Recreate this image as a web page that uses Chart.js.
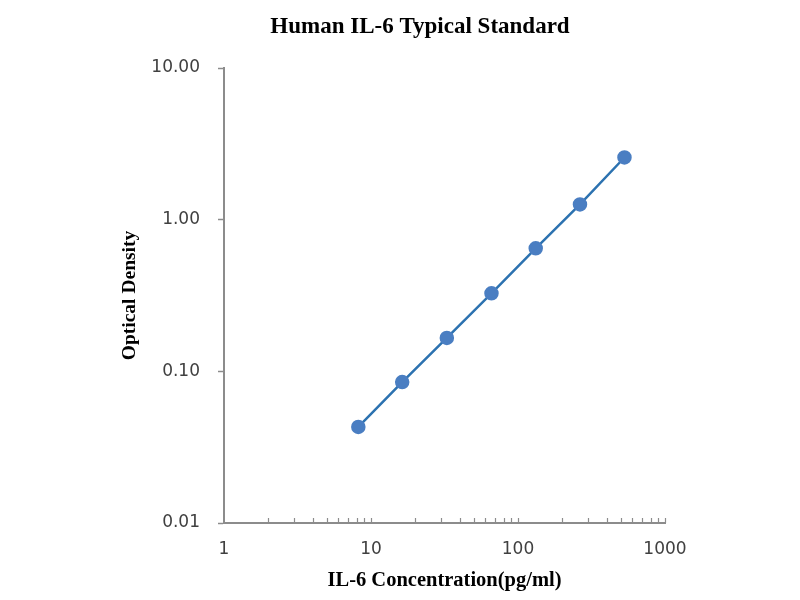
<!DOCTYPE html>
<html>
<head>
<meta charset="utf-8">
<script src="https://cdn.jsdelivr.net/npm/chart.js@4.4.1/dist/chart.umd.min.js"></script>
<style>
  html, body { margin: 0; padding: 0; background: #ffffff; }
  #wrap { width: 800px; height: 600px; position: relative; }
</style>
</head>
<body>
<div id="wrap"><canvas id="c" width="800" height="600"></canvas></div>
<script>
// Data
const concentration = [8.2, 16.3, 32.8, 66, 132, 264, 530];   // pg/ml
const opticalDensity = [0.043, 0.085, 0.166, 0.327, 0.647, 1.26, 2.57];
const xMajorTicks = [1, 10, 100, 1000];
const xTickLabels = ['1', '10', '100', '1000'];
const yMajorTicks = [0.01, 0.1, 1, 10];
const yTickLabels = ['0.01', '0.10', '1.00', '10.00'];
const chartTitle = 'Human IL-6 Typical Standard';
const xTitle = 'IL-6 Concentration(pg/ml)';
const yTitle = 'Optical Density';

const points = concentration.map((x, i) => ({ x: x, y: opticalDensity[i] }));

// inward minor ticks on the x axis, placed through the library's scale
const minorTicks = {
  id: 'minorTicks',
  afterDatasetsDraw(chart) {
    const xs = chart.scales.x;
    const ctx = chart.ctx;
    const yb = chart.chartArea.bottom;
    ctx.save();
    ctx.strokeStyle = '#8c8c8c';
    ctx.lineWidth = 1.2;
    for (let d = 1; d < 1000; d *= 10) {
      for (let m = 2; m <= 10; m++) {
        const px = Math.round(xs.getPixelForValue(d * m)) + 0.5;
        ctx.beginPath();
        ctx.moveTo(px, yb);
        ctx.lineTo(px, yb - 5);
        ctx.stroke();
      }
    }
    ctx.restore();
  }
};

new Chart(document.getElementById('c'), {
  type: 'scatter',
  data: {
    datasets: [{
      data: points,
      showLine: true,
      borderColor: '#2C72B0',
      borderWidth: 2.5,
      backgroundColor: '#4A7EC2',
      pointBackgroundColor: '#4A7EC2',
      pointBorderColor: '#4A7EC2',
      pointRadius: 6,
      pointHoverRadius: 6,
      tension: 0
    }]
  },
  options: {
    responsive: false,
    animation: false,
    devicePixelRatio: 1,
    layout: { padding: { left: 40, right: 0, top: 0, bottom: 0 } },
    plugins: {
      legend: { display: false },
      tooltip: { enabled: false },
      title: {
        display: true,
        text: chartTitle,
        color: '#000000',
        font: { family: '"Liberation Serif", "Times New Roman", serif', size: 23, weight: 'bold', lineHeight: 1.2 },
        padding: { top: 13, bottom: 27.4 }
      }
    },
    scales: {
      x: {
        type: 'logarithmic',
        min: 1,
        max: 1000,
        afterBuildTicks(scale) { scale.ticks = xMajorTicks.map(v => ({ value: v })); },
        afterFit(scale) { scale.height = 77; },
        ticks: {
          autoSkip: false,
          maxRotation: 0,
          padding: 16,
          color: '#404040',
          font: { family: '"DejaVu Sans", Verdana, sans-serif', size: 17 },
          callback(v) { const i = xMajorTicks.indexOf(v); return i >= 0 ? xTickLabels[i] : ''; }
        },
        grid: { display: true, drawOnChartArea: false, drawTicks: false, color: '#8c8c8c' },
        border: { display: true, color: '#8c8c8c', width: 2 },
        title: {
          display: true,
          text: xTitle,
          color: '#000000',
          font: { family: '"Liberation Serif", "Times New Roman", serif', size: 20.5, weight: 'bold', lineHeight: 1.2 },
          padding: { top: 0, bottom: 7 }
        }
      },
      y: {
        type: 'logarithmic',
        min: 0.01,
        max: 10,
        afterBuildTicks(scale) { scale.ticks = yMajorTicks.map(v => ({ value: v })); },
        afterFit(scale) { scale.width = 184; },
        ticks: {
          padding: 18,
          color: '#404040',
          font: { family: '"DejaVu Sans", Verdana, sans-serif', size: 17 },
          callback(v) { const i = yMajorTicks.indexOf(v); return i >= 0 ? yTickLabels[i] : ''; }
        },
        grid: { display: true, drawOnChartArea: false, drawTicks: true, tickLength: 6, tickWidth: 1.5, tickColor: '#8c8c8c' },
        border: { display: true, color: '#8c8c8c', width: 2 },
        title: {
          display: true,
          text: yTitle,
          color: '#000000',
          font: { family: '"Liberation Serif", "Times New Roman", serif', size: 19.5, weight: 'bold', lineHeight: 1.2 },
          padding: { top: 78, bottom: 0 }
        }
      },
      yRight: {
        type: 'logarithmic',
        position: 'right',
        min: 0.01,
        max: 10,
        display: true,
        afterFit(scale) { scale.width = 135; },
        ticks: { display: false },
        grid: { display: false, drawTicks: false },
        border: { display: false }
      }
    }
  },
  plugins: [minorTicks]
});
</script>
</body>
</html>
